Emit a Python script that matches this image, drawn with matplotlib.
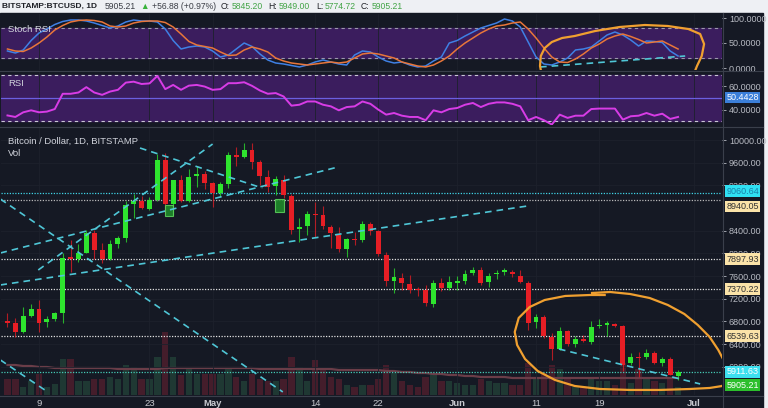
import numpy as np
import matplotlib.pyplot as plt
from matplotlib.lines import Line2D
from matplotlib.patches import Rectangle

plt.rcParams['font.family'] = ['Liberation Sans', 'DejaVu Sans']

# ---- values ----
# day number, 0 = 9 Apr 2018 ; first candle 5 Apr, last 29 Jun
days = np.arange(-4, 82)

opens = [6800, 6780, 6620, 6900, 7020, 6790, 6840, 6950, 7940, 7900,
         8010, 8360, 8060, 7900, 8166, 8280, 8880, 8920, 8790, 8940,
         9640, 8880, 9290, 8920, 9370, 9400, 9240, 9070, 9220, 9740,
         9700, 9830, 9620, 9350, 9190, 9300, 9020, 8430, 8480, 8695,
         8680, 8470, 8330, 8080, 8260, 8240, 8510, 8400, 7980, 7510,
         7570, 7460, 7360, 7350, 7110, 7480, 7390, 7480, 7510, 7650,
         7710, 7490, 7630, 7680, 7670, 7600, 7480, 6790, 6880, 6530,
         6310, 6630, 6400, 6490, 6440, 6720, 6745, 6760, 6720, 6060,
         6170, 6170, 6250, 6070, 6140, 5845.20]
highs = [6950, 6860, 7050, 7110, 7180, 6890, 6970, 8000, 8230, 8170,
         8420, 8420, 8180, 8240, 8300, 8920, 9040, 9020, 8990, 9750,
         9770, 9300, 9390, 9480, 9540, 9450, 9260, 9260, 9790, 9870,
         9950, 9950, 9640, 9470, 9370, 9380, 9050, 8630, 8740, 8900,
         8840, 8500, 8460, 8270, 8380, 8580, 8560, 8420, 8030, 7740,
         7650, 7620, 7410, 7450, 7530, 7560, 7600, 7600, 7700, 7760,
         7760, 7660, 7700, 7740, 7700, 7700, 7520, 6930, 6910, 6600,
         6700, 6650, 6540, 6560, 6800, 6840, 6800, 6780, 6740, 6240,
         6260, 6320, 6280, 6180, 6170, 5949.00]
lows = [6700, 6525, 6590, 6880, 6620, 6700, 6800, 6780, 7670, 7850,
        8000, 7900, 7830, 7880, 8100, 8200, 8620, 8780, 8770, 8930,
        8710, 8680, 8900, 8900, 9170, 9130, 8820, 9000, 9150, 9550,
        9680, 9480, 9200, 9090, 9030, 8980, 8350, 8200, 8320, 8290,
        8430, 8100, 8030, 7940, 8150, 8200, 8330, 7960, 7430, 7300,
        7350, 7300, 7250, 7080, 7060, 7330, 7350, 7350, 7460, 7620,
        7450, 7400, 7540, 7620, 7580, 7480, 6640, 6680, 6500, 6120,
        6300, 6360, 6350, 6430, 6400, 6680, 6550, 6700, 5920, 6040,
        5820, 6130, 6050, 6020, 5850, 5774.72]
closes = [6780, 6620, 6900, 7020, 6770, 6840, 6950, 7920, 7900, 8010,
          8360, 8060, 7900, 8166, 8280, 8860, 8920, 8800, 8940, 9640,
          8880, 9290, 8930, 9350, 9400, 9240, 9070, 9220, 9740, 9700,
          9830, 9620, 9370, 9180, 9310, 9030, 8420, 8460, 8690, 8680,
          8480, 8360, 8080, 8250, 8240, 8520, 8400, 7990, 7510, 7590,
          7470, 7350, 7350, 7120, 7480, 7390, 7500, 7510, 7640, 7710,
          7480, 7610, 7655, 7695, 7640, 7500, 6780, 6880, 6540, 6310,
          6630, 6400, 6490, 6460, 6700, 6740, 6760, 6725, 6040, 6170,
          6150, 6250, 6070, 6140, 5860, 5905.21]
# thousand BTC
volume = [8, 8, 4, 7, 10.5, 4, 5.5, 18, 18, 7,
          7, 8, 8, 9, 8, 15, 14, 8, 8, 19,
          31.5, 19, 10, 14, 10.5, 10.5, 10.5, 10.5, 14, 9,
          7, 10.5, 8, 7, 7, 8, 19, 14, 7, 17.5,
          13, 9, 8, 5, 4, 5, 5, 8, 15, 11,
          7, 5, 4, 9, 11, 7, 7, 6, 5, 5,
          8, 7, 6, 6, 5, 5, 16, 8, 11, 15,
          13, 8, 4, 4, 8, 7, 7, 5, 16, 6,
          13, 8, 7, 6, 8, 4]
vol_ma = [15, 15, 14.5, 14.5, 14, 14, 13.5, 13.5, 13.5, 13.5,
          13.5, 13.5, 13.5, 13.5, 13, 13, 13, 13, 13, 13,
          13.5, 13.5, 13.5, 13.5, 13.5, 13.5, 13.5, 13.5, 13.5, 13.5,
          13.5, 13.5, 13, 13, 13, 13, 13, 13, 13, 13,
          13, 13, 12.5, 12.5, 12.5, 12.5, 12.5, 12.5, 12, 12,
          11.5, 11.5, 11, 11, 10.5, 10.5, 10, 10, 9.5, 9.5,
          9, 9, 9, 9, 8.5, 8.5, 8.5, 8.5, 8.5, 8.5,
          8.5, 8.5, 8.5, 8.5, 8.5, 8.5, 8.5, 8.5, 8.5, 8.5,
          8.5, 8.5, 8.5, 8.5, 8.5, 8.5]
stoch_k = [34, 30, 36, 55, 70, 78, 87, 93, 96, 96,
           94, 90, 85, 80, 84, 92, 96, 94, 94, 92,
           78, 55, 38, 42, 44, 42, 34, 22, 26, 38,
           50, 43, 28, 16, 10, 8, 5, 2, 6, 12,
           16, 12, 8, 6, 26, 34, 32, 22, 14, 10,
           12, 6, 2, 4, 14, 22, 50, 55, 64, 72,
           80, 85, 90, 98, 94, 82, 52, 22, 8, 6,
           12, 20, 36, 38, 42, 54, 66, 72, 66, 56,
           44, 54, 53, 51, 34, 24]
stoch_d = [38, 34, 33, 40, 50, 62, 76, 85, 92, 95,
           96, 95, 92, 84, 82, 84, 90, 93, 94, 94,
           91, 82, 68, 53, 46, 43, 40, 32, 25, 26,
           36, 42, 38, 32, 20, 14, 10, 8, 6, 8,
           10, 12, 10, 12, 20, 28, 30, 28, 24, 20,
           12, 8, 4, 2, 6, 14, 24, 38, 50, 60,
           70, 78, 84, 86, 90, 92, 78, 60, 40, 22,
           12, 11, 18, 28, 40, 48, 58, 64, 68, 63,
           57, 50, 52, 54, 46, 38]
rsi = [35, 33.7, 37.7, 39.4, 37.7, 38.3, 40.5, 53.6, 53.6, 54.7,
       59.3, 54.7, 52.7, 55.5, 57, 63.2, 64, 62, 62.5, 68.9,
       57.6, 61.2, 57, 60.6, 61.2, 59.8, 57, 57.6, 62.7, 62.7,
       63.5, 60.4, 56.4, 53.6, 54.2, 51.3, 43.4, 44.2, 47, 47,
       44.2, 42.8, 39.4, 42.2, 42.8, 47, 45, 40, 35.7, 37.1,
       34.8, 33.7, 33.7, 30.9, 39.4, 37.7, 40.5, 41.4, 44.2, 45.7,
       42.2, 45, 46.2, 46.2, 45, 42.8, 30.9, 33.7, 30.9, 27.2,
       35.7, 32.9, 34.8, 34.8, 40.5, 40.9, 40.9, 40.9, 31.4, 34.3,
       34.8, 37.1, 34.8, 36.5, 32, 33.7]

levels = [9060.64, 8940.05, 7897.93, 7370.22, 6539.63, 5911.63]
level_line_colors = ['#3fd3e6', '#b8b8b8', '#e2e2e2', '#e2e2e2', '#e2e2e2', '#45c9b5']
level_box_colors = ['#2fe0f2', '#fbe3a8', '#fbe3a8', '#fbe3a8', '#fbe3a8', '#3ce0f0']
level_text_colors = ['#1a7fa8', '#333333', '#333333', '#333333', '#333333', '#ffffff']
level_label_shift = [1.5, -4.5, 0, 0, 0, 0]   # points, keeps boxes apart
last_price = 5905.21
rsi_last = 50.4428

tick_days = [0, 14, 22, 35, 43, 53, 63, 71, 83]
tick_names = ['9', '23', 'May', '14', '22', 'Jun', '11', '19', 'Jul']
# 8800 sits fully behind the 8940.05 tag in the screenshot
price_ticks = [6000, 6400, 6800, 7200, 7600, 8000, 8400, 9200, 9600, 10000]

# drawn trend lines (day, price)
trend_lines = [((-4.9, 8959), (30.9, 5556)),
               ((-4.9, 6120), (1.1, 5556)),
               ((-4.9, 8007), (37.9, 9524)),
               ((-4.9, 7443), (61.9, 8836)),
               ((-0.1, 7707), (22.0, 9929)),
               ((12.8, 9859), (28.3, 9153)),
               ((65.9, 6314), (83.8, 5697))]
stoch_trend = ((63.5, 2), (81.9, 24))
# green marker squares (day0, day1, price0, price1)
marks = [(15.95, 17.0, 8660, 8854), (29.9, 31.05, 8730, 8959)]
# hand drawn orange loops
loop_main = [(70.1, 7302), (72.4, 7319), (74.9, 7284), (77.4, 7213), (79.7, 7090),
             (81.8, 6931), (83.5, 6737), (85.0, 6526), (86.1, 6296), (87.1, 6032),
             (87.3, 5802), (86.6, 5661), (85.0, 5626), (82.5, 5608), (78.7, 5591),
             (74.9, 5591), (71.1, 5608), (67.9, 5661), (65.4, 5767), (63.2, 5926),
             (61.6, 6138), (60.6, 6384), (60.3, 6614), (60.8, 6861), (62.2, 7055),
             (64.1, 7178), (66.7, 7249), (69.8, 7266), (71.7, 7266)]
loop_stoch = [(63.75, -16), (63.5, 4), (63.6, 24), (64.1, 40), (65.0, 52), (66.3, 60),
              (67.9, 64), (70.5, 74), (73.6, 82), (76.8, 86), (79.7, 84), (82.3, 78),
              (83.8, 68), (84.3, 48), (84.0, 24), (83.4, 4), (82.9, -16)]

# ---- style ----
BG = '#151924'
GRID = '#1d212c'
SEP = '#3a3f4b'
TXT = '#b7bac2'
UP = '#2ee42e'
DOWN = '#e61e25'
ORANGE = '#f0a030'
CYAN = '#4fc6d6'
PURPLE = '#3b1d5e'

W, H = 768, 408


def rect(x0, y0, x1, y1):
    return [x0 / W, 1 - y1 / H, (x1 - x0) / W, (y1 - y0) / H]


fig = plt.figure(figsize=(W / 100, H / 100), dpi=100, facecolor='#eef0f4')
fig.add_artist(Rectangle((0, 0), 763 / W, 395 / H, transform=fig.transFigure,
                         color=BG, zorder=-10))

ax1 = fig.add_axes(rect(1, 14, 722, 70))
ax2 = fig.add_axes(rect(1, 72, 722, 125))
ax = fig.add_axes(rect(1, 128, 722, 395))
xlim = (-4.82, 86.57)

# volume lives on a twin axis behind the candles
vax = ax.twinx()
vax.set_ylim(0, 133.5)
vax.set_yticks([])
vax.set_facecolor(BG)
for s in vax.spines.values():
    s.set_visible(False)
ax.set_zorder(vax.get_zorder() + 1)
ax.patch.set_visible(False)

for a in (ax1, ax2, ax):
    a.set_xlim(*xlim)
    for s in a.spines.values():
        s.set_visible(False)
    a.yaxis.tick_right()
    a.yaxis.set_label_position('right')
    a.tick_params(axis='y', which='both', left=False, labelleft=False, right=True,
                  labelright=True, colors=TXT, labelsize=6.5, length=3, pad=2, width=0.6)
    a.set_xticks(tick_days)
    a.grid(True, color=GRID, lw=0.6)
    a.set_axisbelow(True)
for a in (ax1, ax2):
    a.set_facecolor(BG)
    a.tick_params(axis='x', length=0, labelbottom=False)

# ---- Stoch RSI panel ----
ax1.set_ylim(-4, 108)
ax1.axhspan(20, 80, color=PURPLE, zorder=0.5)
for v in (20, 80):
    ax1.axhline(v, color='#9b98aa', lw=0.8, dashes=(3, 3))
ax1.plot(days, stoch_k, color='#3f80e4', lw=1.1)
ax1.plot(days, stoch_d, color='#e8763a', lw=1.1)
ax1.plot(*zip(*stoch_trend), color=CYAN, lw=1.2, dashes=(4, 3))
ax1.plot(*zip(*loop_stoch), color=ORANGE, lw=1.6)
ax1.set_yticks([0, 50, 100], ['0.0000', '50.0000', '100.0000'])
ax1.grid(False, axis='y')
ax1.text(0.01, 0.72, 'Stoch RSI', transform=ax1.transAxes, color='#d1d4dc',
         fontsize=6.8, va='center')

# ---- RSI panel ----
ax2.set_ylim(26.8, 72.3)
ax2.axhspan(30, 70, color=PURPLE, zorder=0.5)
for v in (30, 70):
    ax2.axhline(v, color='#c9c7d4', lw=0.8, dashes=(3, 3))
ax2.axhline(50, color='#6b5fe0', lw=0.9)
ax2.plot(days, rsi, color='#d83ce6', lw=1.4)
ax2.set_yticks([40, 60], ['40.0000', '60.0000'])
ax2.grid(False, axis='y')
ax2.text(0.01, 0.78, 'RSI', transform=ax2.transAxes, color='#d1d4dc',
         fontsize=6.8, va='center')
ax2.annotate(f'{rsi_last:.4f}', xy=(1.0, rsi_last), xycoords=('axes fraction', 'data'),
             xytext=(3, 0), textcoords='offset points', ha='left', va='center',
             fontsize=6.5, color='white', annotation_clip=False,
             bbox=dict(boxstyle='square,pad=0.15', fc='#3b7fd9', ec='none'))

# ---- main panel ----
ax.set_ylim(5502, 10212)

o = np.array(opens)
c = np.array(closes)
up = c >= o
vcol = np.where(up, '#1f3833', '#441d2b')
vax.bar(days, volume, width=0.8, color=vcol)
vax.plot(days, vol_ma, color='#6a3d48', lw=1.6)

ccol = np.where(up, UP, DOWN)
ax.vlines(days, lows, highs, colors=ccol, lw=0.8, alpha=0.75, zorder=3)
body = np.maximum(np.abs(c - o), 22)
ax.bar(days, body, bottom=np.minimum(o, c), width=0.62, color=ccol, zorder=4)

for d0, d1, p0, p1 in marks:
    ax.add_patch(Rectangle((d0, p0), d1 - d0, p1 - p0, fc='#1f8f2a', ec='#5fd65f',
                           lw=0.8, alpha=0.85, zorder=5))

for lv, lc in zip(levels, level_line_colors):
    ax.axhline(lv, color=lc, lw=0.9, dashes=(1, 1.2), zorder=2)

for (x0, y0), (x1, y1) in trend_lines:
    ax.plot([x0, x1], [y0, y1], color=CYAN, lw=1.2, dashes=(4, 3), zorder=6)

ax.plot(*zip(*loop_main), color=ORANGE, lw=1.6, zorder=7)

ax.set_yticks(price_ticks, [f'{p:.2f}' for p in price_ticks])
ax.set_xticklabels(tick_names)
ax.tick_params(axis='x', length=0, labelsize=6.8, colors='#c8cad0', pad=3)
for lab in ax.get_xticklabels():
    if lab.get_text() in ('May', 'Jun', 'Jul'):
        lab.set_fontweight('bold')

for lv, bc, tc, sh in zip(levels, level_box_colors, level_text_colors, level_label_shift):
    ax.annotate(f'{lv:.2f}', xy=(1.0, lv), xycoords=('axes fraction', 'data'),
                xytext=(3, sh), textcoords='offset points', ha='left', va='center',
                fontsize=6.5, color=tc, annotation_clip=False, zorder=10,
                bbox=dict(boxstyle='square,pad=0.15', fc=bc, ec='none'))
ax.annotate(f'{last_price:.2f}', xy=(1.0, last_price), xycoords=('axes fraction', 'data'),
            xytext=(3, -9.5), textcoords='offset points', ha='left', va='center',
            fontsize=6.5, color='white', annotation_clip=False, zorder=10,
            bbox=dict(boxstyle='square,pad=0.15', fc='#2cbf2c', ec='none'))

ax.text(0.01, 0.95, 'Bitcoin / Dollar, 1D, BITSTAMP', transform=ax.transAxes,
        color='#d1d4dc', fontsize=6.8, va='center')
ax.text(0.01, 0.905, 'Vol', transform=ax.transAxes, color='#d1d4dc',
        fontsize=6.8, va='center')

# panel separators
for yy in (71, 126.5, 395.5):
    fig.add_artist(Line2D([0, 763 / W], [1 - yy / H] * 2, transform=fig.transFigure,
                          color=SEP, lw=0.8))
fig.add_artist(Line2D([722.5 / W] * 2, [0, 1 - 13 / H], transform=fig.transFigure,
                      color=SEP, lw=0.8))

# header line
hy = 1 - 6.5 / H
parts = [(2, 'BITSTAMP:BTCUSD, 1D', '#1e2026', 'bold'),
         (105, '5905.21', '#3a3d45', 'normal'),
         (140, '\u25b2', '#38b23a', 'normal'),
         (152, '+56.88 (+0.97%)', '#3a3d45', 'normal'),
         (221, 'O:', '#1e2026', 'normal'),
         (232, '5845.20', '#43a447', 'normal'),
         (268, 'H:', '#1e2026', 'normal'),
         (279, '5949.00', '#43a447', 'normal'),
         (316, 'L:', '#1e2026', 'normal'),
         (325, '5774.72', '#43a447', 'normal'),
         (361, 'C:', '#1e2026', 'normal'),
         (372, '5905.21', '#43a447', 'normal')]
for px, s, col, wt in parts:
    fs = 6.0 if wt == 'bold' else 6.2
    fig.text(px / W, hy, s, color=col, fontsize=fs, fontweight=wt, va='center', ha='left')

fig.savefig('out.png', dpi=100, facecolor=fig.get_facecolor())
